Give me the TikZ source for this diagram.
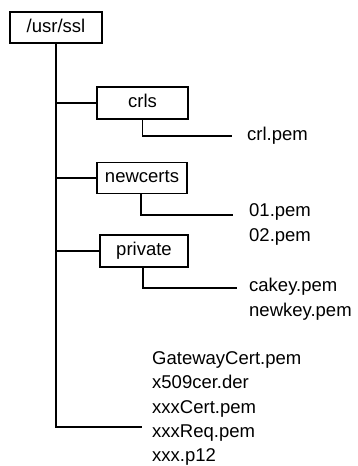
\documentclass[tikz,border=0pt]{standalone}
\usepackage{fontspec}
\setmainfont{Liberation Sans}
\begin{document}
\begin{tikzpicture}[x=1pt,y=-1pt,
  every node/.style={font=\fontsize{18.5}{24.5}\selectfont},
  dirbox/.style={draw, line width=1.3pt, inner sep=0pt, text height=13pt, text depth=4pt},
  fileitem/.style={anchor=west, inner sep=0pt, text height=13pt, text depth=4pt},
  link/.style={line width=1.3pt}]
\useasboundingbox[fill=white] (0,0) rectangle (357,466);
% directory boxes
\node[dirbox, minimum width=92pt, minimum height=31pt] (usr) at (56,27.5) {/usr/ssl};
\node[dirbox, minimum width=91pt, minimum height=32pt] (crls) at (142.5,103) {crls};
\node[dirbox, minimum width=90pt, minimum height=31pt] (newcerts) at (142,178) {newcerts};
\node[dirbox, minimum width=88pt, minimum height=32pt] (private) at (144,251) {private};
% files
\node[fileitem] (crlpem) at (247,136) {crl.pem};
\node[fileitem] (p01) at (249,212) {01.pem};
\node[fileitem] (p02) at (249,237) {02.pem};
\node[fileitem] (cakey) at (249,287) {cakey.pem};
\node[fileitem] (newkey) at (249,311.5) {newkey.pem};
\node[fileitem] (gw) at (152,360) {GatewayCert.pem};
\node[fileitem] (x509) at (152,384) {x509cer.der};
\node[fileitem] (xcert) at (152,408.5) {xxxCert.pem};
\node[fileitem] (xreq) at (152,433) {xxxReq.pem};
\node[fileitem] (xp12) at (152,457) {xxx.p12};
\coordinate (bottom) at (56,427);
\coordinate (bottomend) at (142,427);
% trunk
\draw[link] (usr.south) -- (bottom) -- (bottomend);
\draw[link] (crls.west) -- (crls.west -| usr.south);
\draw[link] (newcerts.west) -- (newcerts.west -| usr.south);
\draw[link] (private.west) -- (private.west -| usr.south);
% sub connectors
\draw[link] (crls.south) |- ([xshift=-15pt]crlpem.west);
\draw[link] ([xshift=-1pt]newcerts.south) |- ([xshift=-16pt,yshift=-3pt]p01.west);
\draw[link] ([xshift=-1pt]private.south) |- ([xshift=-12pt,yshift=-1pt]cakey.west);
\end{tikzpicture}
\end{document}
